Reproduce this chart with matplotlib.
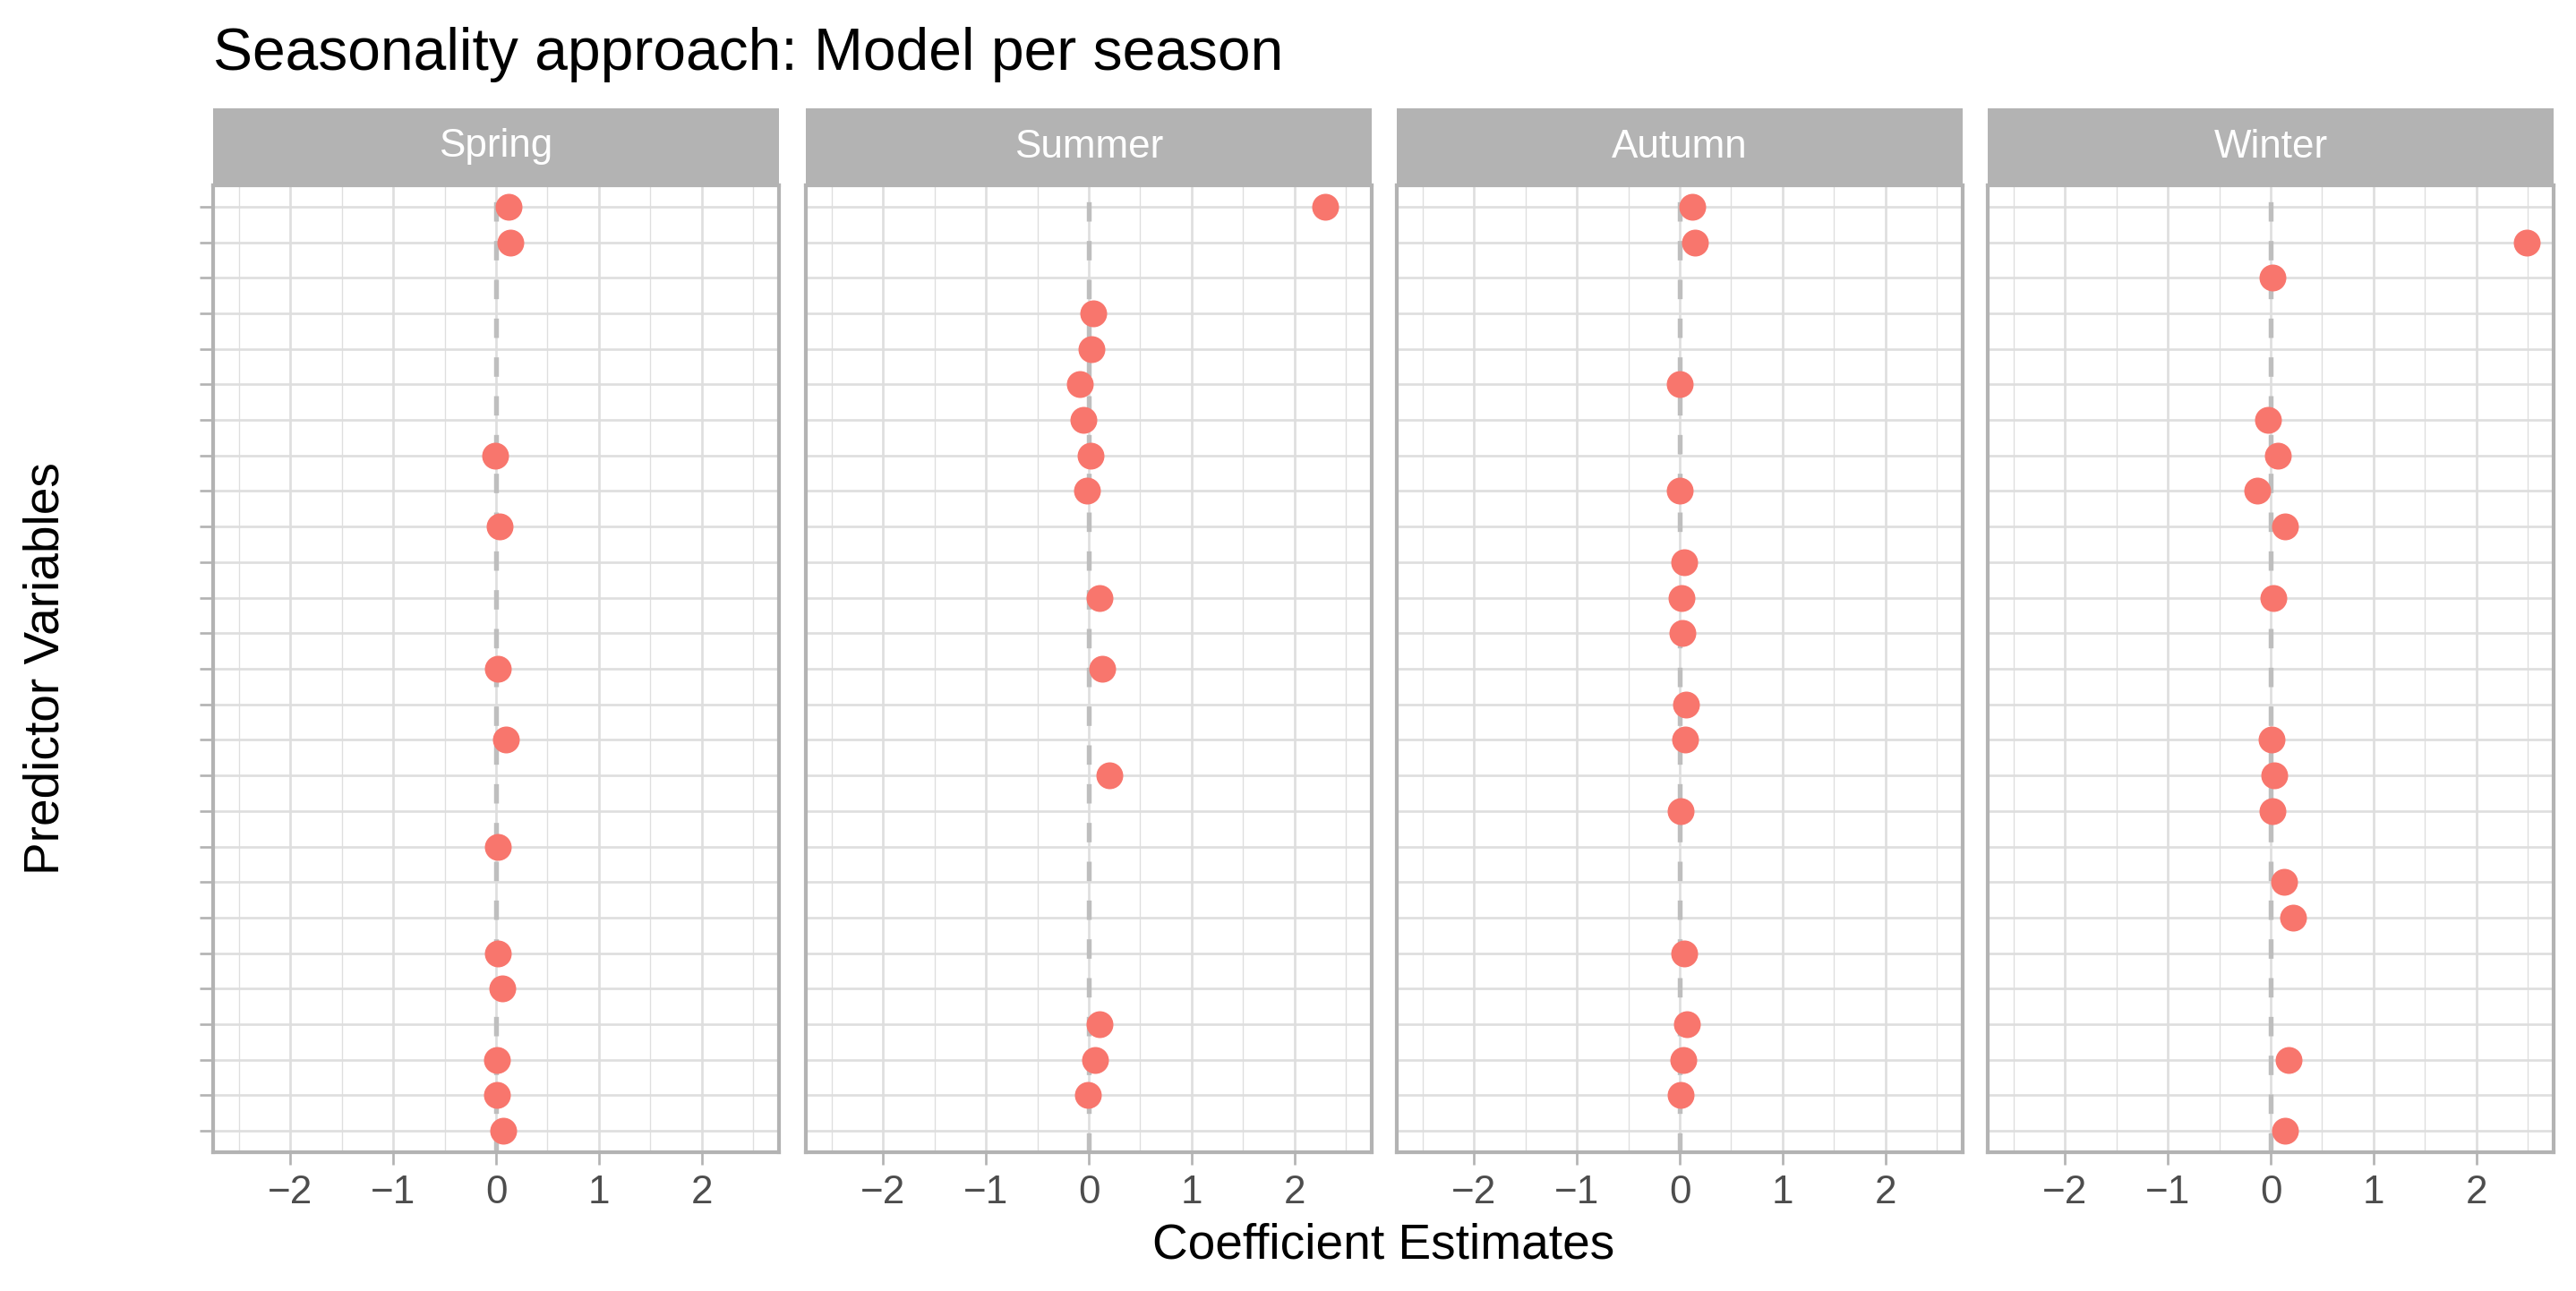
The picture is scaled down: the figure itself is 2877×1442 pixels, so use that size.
"""Coefficient estimates per season, faceted dot plot."""

import matplotlib.pyplot as plt
import numpy as np

plt.rcParams['font.family'] = ['Liberation Sans', 'DejaVu Sans']

nan = np.nan

seasons = ['Spring', 'Summer', 'Autumn', 'Winter']

# one value per predictor row, top row first (nan = predictor not in model)
spring = [0.12, 0.14, nan, nan, nan, nan, nan, -0.01, nan, 0.035,
          nan, nan, nan, 0.02, nan, 0.10, nan, nan, 0.015, nan,
          nan, 0.02, 0.06, nan, 0.005, 0.01, 0.07]
summer = [2.30, nan, nan, 0.046, 0.03, -0.084, -0.05, 0.02, -0.015, nan,
          nan, 0.107, nan, 0.133, nan, nan, 0.197, nan, nan, nan,
          nan, nan, nan, 0.107, 0.064, -0.006, nan]
autumn = [0.12, 0.15, nan, nan, nan, 0.0, nan, nan, 0.0, nan,
          0.04, 0.02, 0.026, nan, 0.06, 0.055, nan, 0.012, nan, nan,
          nan, 0.04, nan, 0.07, 0.035, 0.01, nan]
winter = [nan, 2.49, 0.017, nan, nan, nan, -0.03, 0.072, -0.128, 0.139,
          nan, 0.029, nan, nan, nan, 0.012, 0.038, 0.02, nan, 0.13,
          0.217, nan, nan, nan, 0.177, nan, 0.139]
season_values = [spring, summer, autumn, winter]

x_ticks = [-2, -1, 0, 1, 2]
x_minor = [-2.5, -1.5, -0.5, 0.5, 1.5, 2.5]
x_limits = (-2.75, 2.75)

W, H = 2877, 1442
DPI = 300
fig = plt.figure(figsize=(W / DPI, H / DPI), dpi=DPI)
fig.patch.set_facecolor('white')


def px_axes(x0, y0, w, h):
    return fig.add_axes([x0 / W, 1 - (y0 + h) / H, w / W, h / H])


panel_left = [238, 900, 1560, 2220]
panel_w = 632
panel_top, panel_h = 207, 1080
strip_top, strip_h = 121, 86

grey70 = '#B3B3B3'
grid_col = '#DEDEDE'
n_rows = len(spring)
rows = np.arange(n_rows)

for i, (season, vals) in enumerate(zip(seasons, season_values)):
    ax = px_axes(panel_left[i], panel_top, panel_w, panel_h)
    ax.set_xlim(*x_limits)
    ax.set_ylim(n_rows - 0.4, -0.6)
    ax.set_xticks(x_ticks)
    ax.set_xticks(x_minor, minor=True)
    ax.set_yticks(rows)
    ax.set_yticklabels([''] * n_rows)
    ax.grid(True, which='major', color=grid_col, linewidth=0.64)
    ax.grid(True, which='minor', axis='x', color=grid_col, linewidth=0.32)
    ax.set_axisbelow(True)

    ax.axvline(0, color='#BEBEBE', linewidth=1.3, dashes=(4, 4), zorder=2)
    ax.plot(vals, rows, 'o', color='#F8766D', markersize=7.2,
            markeredgewidth=0, zorder=3)

    for sp in ax.spines.values():
        sp.set_color(grey70)
        sp.set_linewidth(1.0)
        sp.set_zorder(5)
    ax.tick_params(axis='x', which='major', length=3.3, width=0.64,
                   color=grey70, labelcolor='#4D4D4D', labelsize=10.56, pad=2.6)
    ax.tick_params(axis='x', which='minor', length=0)
    if i == 0:
        ax.tick_params(axis='y', length=3.5, width=0.64, color=grey70)
    else:
        ax.tick_params(axis='y', length=0)

    strip = px_axes(panel_left[i], strip_top, panel_w, strip_h)
    strip.set_facecolor(grey70)
    strip.set_xticks([])
    strip.set_yticks([])
    for sp in strip.spines.values():
        sp.set_visible(False)
    strip.text(0.5, 0.5, season, color='white', fontsize=10.56,
               ha='center', va='center', transform=strip.transAxes)

fig.text(238 / W, 1 - 61 / H, 'Seasonality approach: Model per season',
         fontsize=15.84, ha='left', va='center', color='black')
fig.text(1545 / W, 1 - 1392 / H, 'Coefficient Estimates',
         fontsize=13.2, ha='center', va='center', color='black')
fig.text(52 / W, 1 - 747 / H, 'Predictor Variables', rotation=90,
         fontsize=13.2, ha='center', va='center', color='black')

fig.savefig('out.png', dpi=DPI)
plt.close()
